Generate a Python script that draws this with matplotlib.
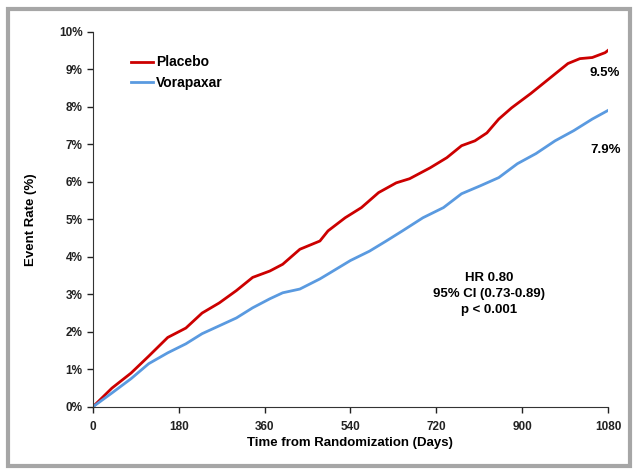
import matplotlib.pyplot as plt
from matplotlib.patches import Rectangle

plt.rcParams['font.family'] = ['Liberation Sans', 'DejaVu Sans']
plt.rcParams['font.weight'] = 'bold'

# curves (days, event rate %)
placebo_days = [0, 40, 80, 117, 157, 195, 229, 265, 301, 335, 371, 398, 434, 476,
                493, 529, 563, 599, 636, 664, 707, 742, 773, 801, 826, 851, 878,
                918, 957, 996, 1021, 1047, 1074, 1080]
placebo_rate = [0.0, 0.5, 0.9, 1.35, 1.85, 2.1, 2.5, 2.77, 3.1, 3.45, 3.62, 3.8, 4.2, 4.42,
                4.69, 5.04, 5.31, 5.71, 5.97, 6.08, 6.37, 6.64, 6.96, 7.09, 7.3, 7.67, 7.97,
                8.35, 8.75, 9.15, 9.28, 9.31, 9.44, 9.5]

vorapaxar_days = [0, 40, 80, 117, 157, 195, 229, 265, 301, 335, 371, 398, 434, 476,
                  497, 540, 580, 615, 649, 692, 735, 773, 812, 851, 890, 929, 969,
                  1008, 1047, 1080]
vorapaxar_rate = [0.0, 0.37, 0.75, 1.15, 1.44, 1.68, 1.95, 2.16, 2.37, 2.64, 2.88, 3.04,
                  3.14, 3.41, 3.57, 3.9, 4.15, 4.42, 4.69, 5.04, 5.31, 5.68, 5.89, 6.11,
                  6.48, 6.75, 7.09, 7.36, 7.67, 7.9]

x_ticks = [0, 180, 360, 540, 720, 900, 1080]
y_ticks = list(range(0, 11))

red = '#cc0000'
blue = '#5a9ae0'

fig = plt.figure(figsize=(6.36, 4.72), dpi=100)
fig.patches.append(Rectangle((0.013, 0.012), 0.977, 0.968, transform=fig.transFigure,
                             fill=False, edgecolor='#a6a6a6', linewidth=3))

ax = fig.add_axes([0.146, 0.138, 0.810, 0.795])
ax.plot(placebo_days, placebo_rate, color=red, lw=2, label='Placebo')
ax.plot(vorapaxar_days, vorapaxar_rate, color=blue, lw=2, label='Vorapaxar')

ax.set_xlim(0, 1080)
ax.set_ylim(0, 10)
ax.set_xticks(x_ticks)
ax.set_yticks(y_ticks)
ax.set_yticklabels([f'{v}%' for v in y_ticks])
ax.tick_params(labelsize=8.5, colors='#222222', length=4, width=1)
ax.tick_params(axis='x', pad=6)
for s in ['top', 'right']:
    ax.spines[s].set_visible(False)
for s in ['left', 'bottom']:
    ax.spines[s].set_color('#333333')

ax.set_xlabel('Time from Randomization (Days)', fontsize=9.5, fontweight='bold', labelpad=3)
ax.set_ylabel('Event Rate (%)', fontsize=9.5, fontweight='bold', labelpad=16)

ax.legend(loc='upper left', bbox_to_anchor=(0.05, 0.97), frameon=False, fontsize=10,
          handlelength=1.6, handletextpad=0.2, labelspacing=0.5)

ax.text(placebo_days[-1] - 6, placebo_rate[-1] - 0.6, '9.5%', fontsize=9.5,
        fontweight='bold', ha='center', va='center')
ax.text(vorapaxar_days[-1] - 6, vorapaxar_rate[-1] - 1.06, '7.9%', fontsize=9.5,
        fontweight='bold', ha='center', va='center')
ax.text(830, 3.0, 'HR 0.80\n95% CI (0.73-0.89)\np < 0.001', fontsize=9.5,
        fontweight='bold', ha='center', va='center', linespacing=1.45)

fig.savefig('out.png', dpi=100)
